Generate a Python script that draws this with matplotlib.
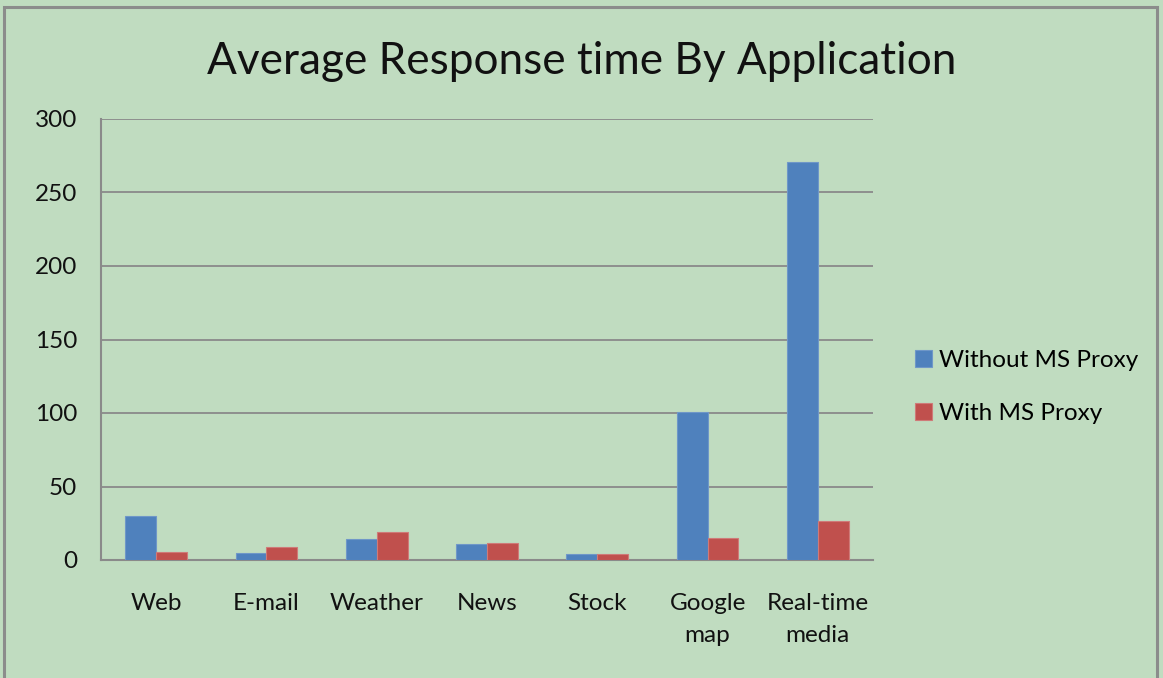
import matplotlib
matplotlib.use("Agg")
import matplotlib.pyplot as plt
from matplotlib.patches import Rectangle
import numpy as np

categories = ["Web", "E-mail", "Weather", "News", "Stock", "Google\nmap", "Real-time\nmedia"]
without_proxy = [30, 4.8, 14.3, 10.9, 3.9, 101, 270.5]
with_proxy = [5.6, 9, 18.8, 11.8, 3.9, 15.2, 26.5]
series_names = ["Without MS Proxy", "With MS Proxy"]
y_ticks = [0, 50, 100, 150, 200, 250, 300]

bg = "#C0DCC0"
blue = "#4F81BD"
red = "#C0504D"
grid = "#8A8A8A"
font = ["Lato", "DejaVu Sans"]

fig = plt.figure(figsize=(11.63, 6.78), dpi=100, facecolor=bg)
ax = fig.add_axes([101 / 1163, 1 - 560 / 678, (873 - 101) / 1163, (560 - 119) / 678])
ax.set_facecolor(bg)

x = np.arange(len(categories))
w = 0.28
ax.bar(x - w / 2, without_proxy, w, color=blue, edgecolor="#6F97C8", linewidth=0.8,
       label=series_names[0], zorder=3)
ax.bar(x + w / 2, with_proxy, w, color=red, edgecolor="#CF7A78", linewidth=0.8,
       label=series_names[1], zorder=3)

ax.set_xlim(-0.5, len(categories) - 0.5)
ax.set_ylim(0, 300)
ax.set_yticks(y_ticks)
ax.set_xticks(x)
ax.set_xticklabels(categories, fontsize=17.5, family=font, linespacing=1.6)
ax.set_yticklabels([str(v) for v in y_ticks], fontsize=17.5, family=font)
ax.tick_params(axis="both", length=0, colors="#111111")
ax.tick_params(axis="x", pad=24)
ax.tick_params(axis="y", pad=17)
ax.yaxis.grid(True, color=grid, linewidth=1.3, zorder=0)
for side in ["top", "right"]:
    ax.spines[side].set_visible(False)
for side in ["left", "bottom"]:
    ax.spines[side].set_color(grid)
    ax.spines[side].set_linewidth(1.5)

fig.text(0.5, 1 - 61 / 678, "Average Response time By Application", ha="center", va="center",
         fontsize=31.8, family=font, color="#111111")

leg = fig.legend(loc="center left", bbox_to_anchor=(893 / 1163, 1 - 387 / 678), frameon=False,
                 prop={"family": font, "size": 17.5}, handlelength=0.7, handleheight=0.7,
                 handletextpad=0.3, labelspacing=1.3)

fig.patches.append(Rectangle((4 / 1163, -0.01), (1157 - 4) / 1163, 1 - 7 / 678 + 0.01,
                             transform=fig.transFigure, fill=False, edgecolor="#8C8C8C",
                             linewidth=2.2))

fig.savefig("out.png", dpi=100, facecolor=bg)
